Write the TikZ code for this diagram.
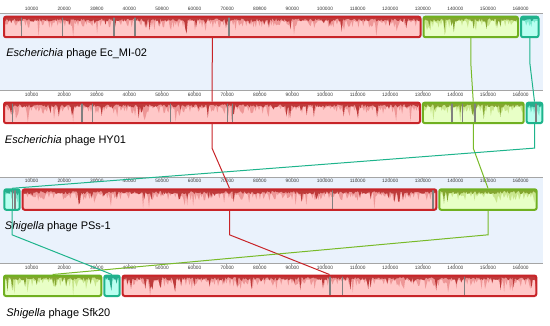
\documentclass[tikz,border=0pt]{standalone}
\usepackage{fontspec}
\setmainfont{Liberation Sans}
\definecolor{rline}{RGB}{200,36,40}
\definecolor{rfill}{RGB}{255,200,200}
\definecolor{rmid}{RGB}{238,150,150}
\definecolor{rdark}{RGB}{190,58,58}
\definecolor{gline}{RGB}{112,176,32}
\definecolor{gfill}{RGB}{232,255,198}
\definecolor{gmid}{RGB}{200,230,140}
\definecolor{gdark}{RGB}{132,166,48}
\definecolor{cline}{RGB}{30,180,140}
\definecolor{cfill}{RGB}{184,255,240}
\definecolor{cmid}{RGB}{120,232,205}
\definecolor{cdark}{RGB}{40,172,142}
\definecolor{panelblue}{RGB}{234,242,252}
\definecolor{rulegrey}{RGB}{165,165,165}
\definecolor{gapgrey}{RGB}{128,128,128}
\definecolor{ticktext}{RGB}{55,55,55}
\definecolor{gconn}{RGB}{120,186,40}
\tikzset{
  blockbox/.style={rectangle, rounded corners=2pt, line width=2pt, inner sep=0pt, outer sep=1pt},
  conn/.style={line width=1pt},
  lbl/.style={anchor=base west, inner sep=0pt, font=\fontsize{11}{13}\selectfont},
  ticklbl/.style={inner sep=0pt, text=ticktext, font=\fontsize{4.8}{5}\selectfont},
  tickmark/.style={draw=rulegrey, line width=0.5pt},
  ruleline/.style={draw=rulegrey, line width=0.8pt}
}
\newcommand\lcbblock[6]{%
  \pgfmathsetmacro\lcbL{#2+1}%
  \pgfmathsetmacro\lcbR{#3-1}%
  \pgfmathsetmacro\lcbT{#4+1}%
  \pgfmathsetmacro\lcbB{#4+21.5}%
  \pgfmathsetmacro\lcbX{(#2+#3)/2}%
  \pgfmathsetmacro\lcbY{#4+11.25}%
  \pgfmathsetmacro\lcbW{#3-#2-2}%
  \pgfmathtruncatemacro\lcbN{(#3-#2)/1.2+2}%
  \fill[#5fill, rounded corners=2pt] (\lcbL,\lcbT) rectangle (\lcbR,\lcbB);
  \begin{scope}
    \clip[rounded corners=2pt] (\lcbL,\lcbT) rectangle (\lcbR,\lcbB);
    \fill[#5mid] (\lcbL,\lcbT) -- plot[domain=\lcbL:\lcbR, samples=\lcbN] (\x,{\lcbT+20.5*(0.2+0.35*rnd*(rnd>0.5)+0.45*(rnd>0.96))}) -- (\lcbR,\lcbT) -- cycle;
    \fill[#5dark] (\lcbL,\lcbT) -- plot[domain=\lcbL:\lcbR, samples=\lcbN] (\x,{\lcbT+20.5*(0.08+0.16*rnd+0.6*rnd*(rnd>0.9))}) -- (\lcbR,\lcbT) -- cycle;
    \foreach \g in {#6} {\fill[gapgrey] (\g-0.7,\lcbT) rectangle (\g+0.7,\lcbB);}
  \end{scope}
  \node[blockbox, draw=#5line, minimum width=\lcbW pt, minimum height=20.5pt] (#1) at (\lcbX,\lcbY) {};
}
\begin{document}
\begin{tikzpicture}[x=1pt,y=-1pt]
\pgfmathsetseed{20231}
\useasboundingbox (0,0) rectangle (550,325);
\fill[white] (0,0) rectangle (550,325);
% panel backgrounds
\fill[panelblue] (0,13.7) rectangle (543,90.8);
\fill[panelblue] (0,177) rectangle (543,262.8);
\draw[ruleline] (0,13.7) -- (543,13.7);
\draw[ruleline] (0,90.8) -- (543,90.8);
\draw[ruleline] (0,177) -- (543,177);
\draw[ruleline] (0,263) -- (543,263);
% rulers
\foreach \k in {1,...,16} {
  \node[ticklbl] (ta-\k) at ({32.6*\k-1},9) {\k0000};
  \draw[tickmark] ({32.6*\k-2},6.6) -- ++(0,2.8);
  \node[ticklbl] (tb-\k) at ({32.6*\k-1},95.2) {\k0000};
  \draw[tickmark] ({32.6*\k-2},91.2) -- ++(0,3);
  \node[ticklbl] (tc-\k) at ({32.6*\k-1},181.2) {\k0000};
  \draw[tickmark] ({32.6*\k-2},177.4) -- ++(0,3);
  \node[ticklbl] (td-\k) at ({32.6*\k-1},267.6) {\k0000};
  \draw[tickmark] ({32.6*\k-2},263.4) -- ++(0,3);
}
% labels
\node[lbl] (la) at (6.2,56.3) {\textit{Escherichia} phage Ec\_MI-02};
\node[lbl] (lb) at (4.8,143) {\textit{Escherichia} phage HY01};
\node[lbl] (lc) at (4.8,229.5) {\textit{Shigella} phage PSs-1};
\node[lbl] (ld) at (6.2,316) {\textit{Shigella} phage Sfk20};
% panel 1
\lcbblock{r1}{3}{421.5}{15.7}{r}{21.3,62.7,114,135,229}
\lcbblock{g1}{422.5}{519}{15.7}{g}{-10}
\lcbblock{c1}{520}{539.5}{15.7}{c}{-10}
% panel 2
\lcbblock{r2}{3}{421}{101.6}{r}{12.3,82,92.7,170.7,227.3,232.7}
\lcbblock{g2}{421.8}{524.7}{101.6}{g}{452,462.7,475}
\lcbblock{c2}{525.7}{543.3}{101.6}{c}{536}
% panel 3
\lcbblock{c3}{3.3}{20.7}{188.3}{c}{12.7,15}
\lcbblock{r3}{21.7}{437.3}{188.3}{r}{332.7,433}
\lcbblock{g3}{438.3}{537.7}{188.3}{g}{-10}
% panel 4
\lcbblock{g4}{3}{102.3}{274.5}{g}{-10}
\lcbblock{c4}{103.3}{120.7}{274.5}{c}{-10}
\lcbblock{r4}{121.7}{537.3}{274.5}{r}{330,342.7,464.3}
% connectors
\draw[conn, rline] (r1.south) -- ++(0,24) -- (r2.north);
\draw[conn, gconn] (g1.south) -- ++(0,24) -- (g2.north);
\draw[conn, cline] (c1.south) -- ++(0,24) -- (c2.north);
\draw[conn, rline] (r2.south) -- ++(0,24) -- (r3.north);
\draw[conn, gconn] (g2.south) -- ++(0,24) -- (g3.north);
\draw[conn, cline] (c2.south) -- ++(0,24) -- (c3.north);
\draw[conn, rline] (r3.south) -- ++(0,24) -- (r4.north);
\draw[conn, gconn] (g3.south) -- ++(0,24) -- (g4.north);
\draw[conn, cline] (c3.south) -- ++(0,24) -- (c4.north);
\end{tikzpicture}
\end{document}
